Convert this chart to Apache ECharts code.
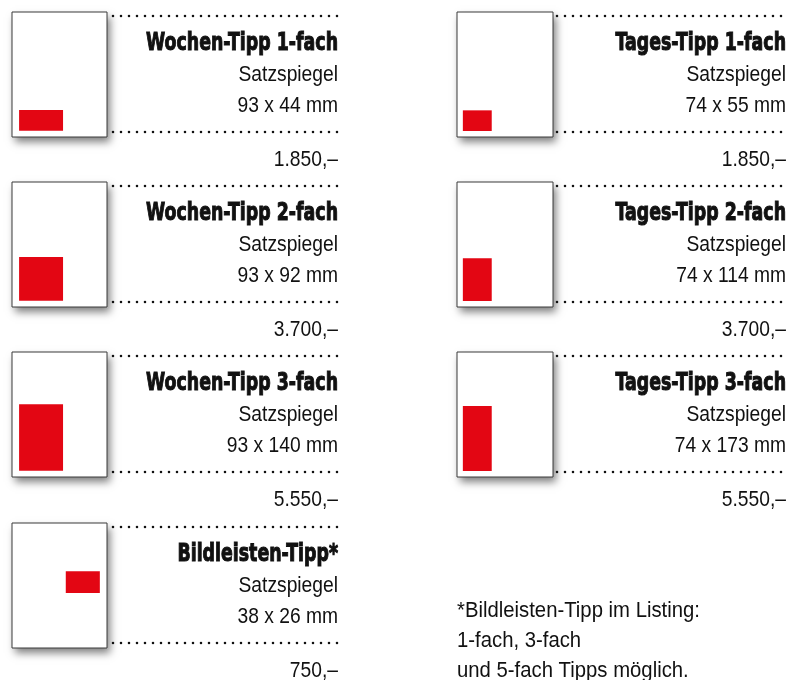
<!DOCTYPE html>
<html lang="de">
<head>
    <meta charset="UTF-8">
    <title>Tipp-Formate</title>
    <script src="https://cdn.jsdelivr.net/npm/echarts@6/dist/echarts.min.js"></script>
    <style>
        html, body { margin: 0; padding: 0; background: #fff; }
        #charts { width: 799px; height: 680px; }
    </style>
</head>
<body>
<div id="charts"></div>

<script>
    // Daten
    var tipNames = ['Wochen-Tipp 1-fach', 'Wochen-Tipp 2-fach', 'Wochen-Tipp 3-fach',
        'Tages-Tipp 1-fach', 'Tages-Tipp 2-fach', 'Tages-Tipp 3-fach', 'Bildleisten-Tipp*'];
    var tipWidthMm = [93, 93, 93, 74, 74, 74, 38];
    var tipHeightMm = [44, 92, 140, 55, 114, 173, 26];
    var tipPrices = ['1.850,–', '3.700,–', '5.550,–', '1.850,–', '3.700,–', '5.550,–', '750,–'];
    var tipKind = ['wochen', 'wochen', 'wochen', 'tages', 'tages', 'tages', 'bild'];
    var footnoteLines = ['*Bildleisten-Tipp im Listing:', '1-fach, 3-fach', 'und 5-fach Tipps möglich.'];

    // Seitenformat je Art (mm) und Lage des Satzspiegels
    var pages = {
        wochen: {w: 201, h: 263, mx: 15, my: 13, right: false},
        tages:  {w: 246, h: 333, mx: 15, my: 16, right: false},
        bild:   {w: 106, h: 148, mx: 8,  my: 65, right: true}
    };

    // Raster
    var colBox = [12, 457], colText = [338, 786], colDot = [113, 557];
    var rowTop = [12, 182, 352, 523];
    var boxW = 95, boxH = 125;

    var headFont = 'bold 25px "DejaVu Sans", sans-serif';
    var bodyFont = 'normal 22px "Liberation Sans", Arial, sans-serif';

    // schmal laufende Schrift nachbilden: horizontale Stauchung aus Textbreite
    var ctx = document.createElement('canvas').getContext('2d');
    function measure(text, font) {
        ctx.font = font;
        return ctx.measureText(text).width;
    }
    var headScale = 192 / measure('Wochen-Tipp 1-fach', headFont);
    var bodyScale = 99.5 / measure('Satzspiegel', bodyFont);
    var noteScale = 243 / measure(footnoteLines[0], bodyFont);

    var chart = echarts.init(document.getElementById('charts'));
    var grids = [], xAxes = [], yAxes = [], series = [], graphics = [];

    function addText(text, x, baseline, font, size, scale, align, heavy) {
        graphics.push({
            type: 'text', silent: true, x: x, y: baseline + 0.2 * size, scaleX: scale,
            style: {
                text: text, fill: '#111', font: font,
                stroke: heavy ? '#111' : null, lineWidth: heavy ? 1.1 : 0,
                textAlign: align, textVerticalAlign: 'bottom'
            }
        });
    }

    tipNames.forEach(function (name, i) {
        var col = i < 3 ? 0 : (i < 6 ? 1 : 0);
        var row = i < 3 ? i : (i < 6 ? i - 3 : 3);
        var page = pages[tipKind[i]];
        var top = rowTop[row];
        var w = col ? boxW + 1 : boxW;

        // Schatten hinter der Seite
        graphics.push({
            type: 'rect', silent: true, z: -10,
            shape: {x: colBox[col], y: top, width: w, height: boxH},
            style: {fill: '#fff', shadowBlur: 8, shadowColor: 'rgba(0,0,0,0.5)', shadowOffsetX: 3, shadowOffsetY: 5}
        });

        grids.push({
            left: colBox[col], top: top, width: w, height: boxH,
            show: true, backgroundColor: '#fff', borderColor: '#3a3a3a', borderWidth: 1
        });
        xAxes.push({type: 'value', gridIndex: i, min: 0, max: page.w, show: false});
        yAxes.push({type: 'value', gridIndex: i, min: 0, max: page.h, show: false});
        series.push({
            type: 'custom', xAxisIndex: i, yAxisIndex: i, silent: true,
            data: [[tipWidthMm[i], tipHeightMm[i]]],
            renderItem: function (params, api) {
                var mw = api.value(0), mh = api.value(1);
                var x0 = page.right ? page.w - page.mx - mw : page.mx;
                var p0 = api.coord([x0, page.my + mh]);
                var p1 = api.coord([x0 + mw, page.my]);
                return {
                    type: 'rect',
                    shape: {x: p0[0], y: p0[1], width: p1[0] - p0[0], height: p1[1] - p0[1]},
                    style: {fill: '#e30613'}
                };
            }
        });

        // gepunktete Linien
        [top + 4, top + 120].forEach(function (y) {
            graphics.push({
                type: 'line', silent: true,
                shape: {x1: colDot[col], y1: y, x2: colText[col], y2: y},
                style: {stroke: '#111', lineWidth: 2.6, lineDash: [0, 8], lineCap: 'round'}
            });
        });

        addText(name, colText[col], top + 39, headFont, 25, headScale, 'right', true);
        addText('Satzspiegel', colText[col], top + 70, bodyFont, 22, bodyScale, 'right');
        addText(tipWidthMm[i] + ' x ' + tipHeightMm[i] + ' mm', colText[col], top + 101, bodyFont, 22, bodyScale, 'right');
        addText(tipPrices[i], colText[col], top + 155, bodyFont, 22, bodyScale, 'right');
    });

    footnoteLines.forEach(function (line, k) {
        addText(line, 457, 618 + k * 30, bodyFont, 22, noteScale, 'left');
    });

    chart.setOption({
        animation: false,
        backgroundColor: '#fff',
        grid: grids,
        xAxis: xAxes,
        yAxis: yAxes,
        series: series,
        graphic: graphics
    });
</script>
</body>
</html>
